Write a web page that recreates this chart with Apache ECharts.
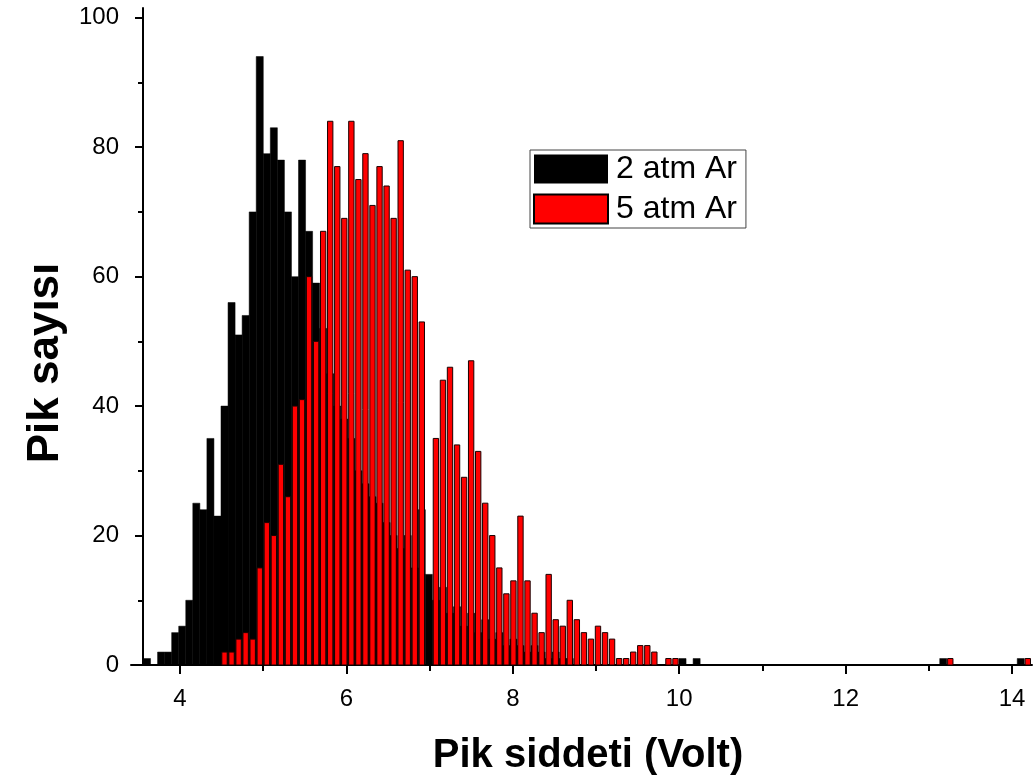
<!DOCTYPE html>
<html><head><meta charset="utf-8">
<script src="https://cdn.jsdelivr.net/npm/echarts@6/dist/echarts.min.js"></script>
<style>html,body{margin:0;padding:0;background:#fff}#c{width:1036px;height:782px}</style>
</head><body><div id="c"></div>
<script>
// ---- data ----
const binStart = 3.6034;      // centre of first histogram bin (Volt)
const binWidth = 0.08469;     // histogram bin width (Volt)
const seriesNames = ['2 atm Ar', '5 atm Ar'];
const counts2atm = [
  1,0,2,2,5,6,10,25,24,35, 23,40,56,51,54,70,94,79,83,78,
  70,60,78,67,59,52,45,40,38,35, 30,28,26,25,22,20,18,20,15,24,
  14,10,12,8,9,6,8,5,7,4, 5,3,4,3,2,3,2,1,2,1,
  1,0,0,0,0,0,0,0,0,0, 0,0,0,0,0,0,1,0,1,0,
  0,0,0,0,0,0,0,0,0,0, 0,0,0,0,0,0,0,0,0,0,
  0,0,0,0,0,0,0,0,0,0, 0,0,0,1,0,0,0,0,0,0,
  0,0,0,0,1,0
];
const counts5atm = [
  0,0,0,0,0,0,0,0,0,0, 0,2,2,4,5,4,15,22,20,31,
  26,40,41,60,50,67,84,77,69,84, 75,79,71,77,74,69,81,61,60,53,
  0,35,44,46,34,29,47,33,25,20, 15,11,13,23,13,8,5,14,7,6,
  10,7,5,4,6,5,4,1,1,2, 3,3,2,0,1,1,0,0,0,0,
  0,0,0,0,0,0,0,0,0,0, 0,0,0,0,0,0,0,0,0,0,
  0,0,0,0,0,0,0,0,0,0, 0,0,0,0,1,0,0,0,0,0,
  0,0,0,0,0,1
];
const xTickLabels = [4, 6, 8, 10, 12, 14];
const xMinorTicks = [5, 7, 9, 11, 13];
const yTickLabels = [0, 20, 40, 60, 80, 100];
const yMinorTicks = [10, 30, 50, 70, 90];
const xTitle = 'Pik siddeti (Volt)';
const yTitle = 'Pik sayısı';

// ---- chart ----
const FONT = '"Liberation Sans", Arial, sans-serif';
function toData(arr) {
  return arr.map((v, i) => [binStart + i * binWidth, v]).filter(d => d[1] > 0);
}
function barRenderer(frac, style) {
  return function (params, api) {
    const x = api.value(0), y = api.value(1);
    const a = api.coord([x - binWidth * frac / 2, y]);
    const b = api.coord([x + binWidth * frac / 2, 0]);
    return {
      type: 'rect',
      shape: { x: a[0], y: a[1], width: b[0] - a[0], height: b[1] - a[1] },
      style: style
    };
  };
}
const chart = echarts.init(document.getElementById('c'), null, { renderer: 'canvas' });
const xMin = 3.411, xMax = 14.24, yMin = 0, yMax = 101.5;
chart.setOption({
  animation: false,
  backgroundColor: '#fff',
  grid: { left: 131, right: 4, top: 8, bottom: 117, containLabel: false },
  xAxis: [{
    type: 'value', min: xMin, max: xMax, position: 'bottom',
    axisLine: { show: true, lineStyle: { color: '#000', width: 2 } },
    axisTick: { show: true, customValues: xTickLabels, length: 9, inside: false, lineStyle: { color: '#000', width: 2 } },
    axisLabel: { customValues: xTickLabels, fontSize: 24, color: '#000', fontFamily: FONT, margin: 22 },
    splitLine: { show: false }
  }, {
    type: 'value', min: xMin, max: xMax, position: 'bottom',
    axisLine: { show: false },
    axisTick: { show: true, customValues: xMinorTicks, length: 6, lineStyle: { color: '#000', width: 2 } },
    axisLabel: { show: false }, splitLine: { show: false }
  }],
  yAxis: [{
    type: 'value', min: yMin, max: yMax, position: 'left', offset: -12,
    axisLine: { show: true, lineStyle: { color: '#000', width: 2 } },
    axisTick: { show: true, customValues: yTickLabels, length: 8, lineStyle: { color: '#000', width: 2 } },
    axisLabel: { customValues: yTickLabels, fontSize: 24, color: '#000', fontFamily: FONT, margin: 24 },
    splitLine: { show: false }
  }, {
    type: 'value', min: yMin, max: yMax, position: 'left', offset: -12,
    axisLine: { show: false },
    axisTick: { show: true, customValues: yMinorTicks, length: 5, lineStyle: { color: '#000', width: 2 } },
    axisLabel: { show: false }, splitLine: { show: false }
  }],
  legend: {
    orient: 'vertical', left: 530, top: 150,
    data: seriesNames,
    icon: 'rect', itemWidth: 74, itemHeight: 29, itemGap: 8,
    borderColor: '#444', borderWidth: 1, padding: [3, 9, 3, 3],
    textStyle: { fontSize: 32, color: '#000', fontFamily: FONT, padding: [0, 0, 0, 3] },
    selectedMode: false
  },
  graphic: [
    { type: 'text', x: 588, y: 756, style: { text: xTitle, font: 'bold 40px ' + FONT, fill: '#000', align: 'center', verticalAlign: 'middle' } },
    { type: 'text', x: 46, y: 363, rotation: Math.PI / 2, style: { text: yTitle, font: 'bold 44px ' + FONT, fill: '#000', align: 'center', verticalAlign: 'middle' } }
  ],
  series: [{
    name: seriesNames[0], type: 'custom', xAxisIndex: 0, yAxisIndex: 0,
    encode: { x: 0, y: 1 },
    itemStyle: { color: '#000' },
    renderItem: barRenderer(1.0, { fill: '#000', stroke: '#000', lineWidth: 0.5 }),
    data: toData(counts2atm), z: 2
  }, {
    name: seriesNames[1], type: 'custom', xAxisIndex: 0, yAxisIndex: 0,
    encode: { x: 0, y: 1 },
    itemStyle: { color: '#ff0000', borderColor: '#000', borderWidth: 1 },
    renderItem: barRenderer(0.76, { fill: '#ff0000', stroke: '#1a0000', lineWidth: 1 }),
    data: toData(counts5atm), z: 3
  }]
});
</script></body></html>
